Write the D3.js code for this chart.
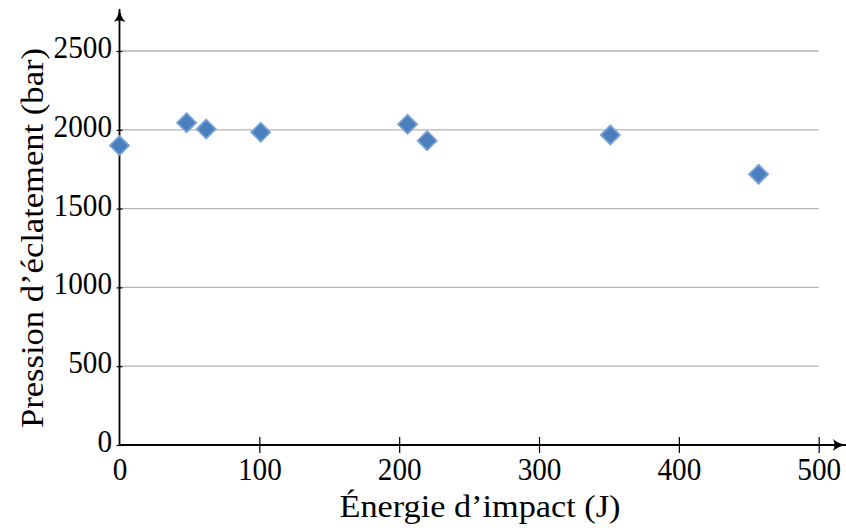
<!DOCTYPE html>
<html><head><meta charset="utf-8">
<script src="https://cdn.jsdelivr.net/npm/d3@7"></script>
<style>body{margin:0;background:#fff}svg{display:block}</style>
</head><body>
<svg id="c" width="846" height="530"></svg>
<script>
const energy = [0, 48, 62, 101, 206, 220, 351, 457];
const pressure = [1900, 2045, 2005, 1984, 2035, 1931, 1967, 1718];
const xTicks = [0, 100, 200, 300, 400, 500];
const yTicks = [0, 500, 1000, 1500, 2000, 2500];
const xTitle = "Énergie d’impact (J)";
const yTitle = "Pression d’éclatement (bar)";

const svg = d3.select("#c");
const x = d3.scaleLinear().domain([0, 500]).range([119.5, 818.7]);
const y = d3.scaleLinear().domain([0, 2500]).range([445, 51]);
const font = "'Liberation Serif', 'Times New Roman', serif";
const digitW = 14.6;

// gridlines
svg.append("g").selectAll("line").data(yTicks.filter(d => d > 0)).join("line")
  .attr("x1", x(0)).attr("x2", x(500))
  .attr("y1", d => y(d)).attr("y2", d => y(d))
  .attr("stroke", "#b3b3b3").attr("stroke-width", 1.3);

// x axis
const xAxis = d3.axisBottom(x).tickValues(xTicks).tickSize(0).tickFormat(d3.format("d"));
const gx = svg.append("g").attr("transform", `translate(0,${y(0)})`).call(xAxis);
gx.select(".domain").remove();
gx.selectAll(".tick line").attr("y1", -8).attr("y2", 8).attr("stroke", "#000").attr("stroke-width", 1.2);
gx.selectAll(".tick line").filter(d => d === 0).remove();
gx.selectAll(".tick text").attr("y", 35).attr("dy", null)
  .attr("font-family", font).attr("font-size", 31).attr("fill", "#000")
  .attr("textLength", d => String(d).length * digitW).attr("lengthAdjust", "spacingAndGlyphs");

// y axis
const yAxis = d3.axisLeft(y).tickValues(yTicks).tickSize(0).tickFormat(d3.format("d"));
const gy = svg.append("g").attr("transform", `translate(${x(0)},0)`).call(yAxis);
gy.select(".domain").remove();
gy.selectAll(".tick line").attr("x1", -3).attr("x2", 3).attr("stroke", "#000").attr("stroke-width", 1.2);
gy.selectAll(".tick text").attr("x", -7.5).attr("dy", null).attr("y", 6.5)
  .attr("font-family", font).attr("font-size", 31).attr("fill", "#000")
  .attr("textLength", d => String(d).length * digitW).attr("lengthAdjust", "spacingAndGlyphs");

// axis lines with arrows
const defs = svg.append("defs");
defs.append("marker").attr("id", "arr").attr("viewBox", "0 0 14 12")
  .attr("refX", 13).attr("refY", 6).attr("markerWidth", 14).attr("markerHeight", 12)
  .attr("markerUnits", "userSpaceOnUse").attr("orient", "auto")
  .append("path").attr("d", "M0,0 Q5,5 14,6 Q5,7 0,12 Q3,6 0,0 Z").attr("fill", "#000");
svg.append("line").attr("x1", x(0)).attr("x2", 846).attr("y1", y(0)).attr("y2", y(0))
  .attr("stroke", "#000").attr("stroke-width", 1.8).attr("marker-end", "url(#arr)");
svg.append("line").attr("x1", x(0)).attr("x2", x(0)).attr("y1", y(0)).attr("y2", 9)
  .attr("stroke", "#000").attr("stroke-width", 1.8).attr("marker-end", "url(#arr)");

// points
const pts = energy.map((e, i) => ({e, p: pressure[i]}));
svg.append("g").selectAll("path").data(pts).join("path")
  .attr("transform", d => `translate(${x(d.e)},${y(d.p)})`)
  .attr("d", "M0,-9.5 L9.5,0 L0,9.5 L-9.5,0 Z")
  .attr("fill", "#4a7ebd").attr("stroke", "#78a0d6").attr("stroke-width", 1.8);

// titles
svg.append("text").attr("x", 480).attr("y", 517).attr("text-anchor", "middle")
  .attr("font-family", font).attr("font-size", 31)
  .attr("textLength", 281).attr("lengthAdjust", "spacingAndGlyphs").text(xTitle);
svg.append("text").attr("transform", "translate(43,238) rotate(-90)").attr("text-anchor", "middle")
  .attr("font-family", font).attr("font-size", 31)
  .attr("textLength", 380).attr("lengthAdjust", "spacingAndGlyphs").text(yTitle);
</script>
</body></html>
